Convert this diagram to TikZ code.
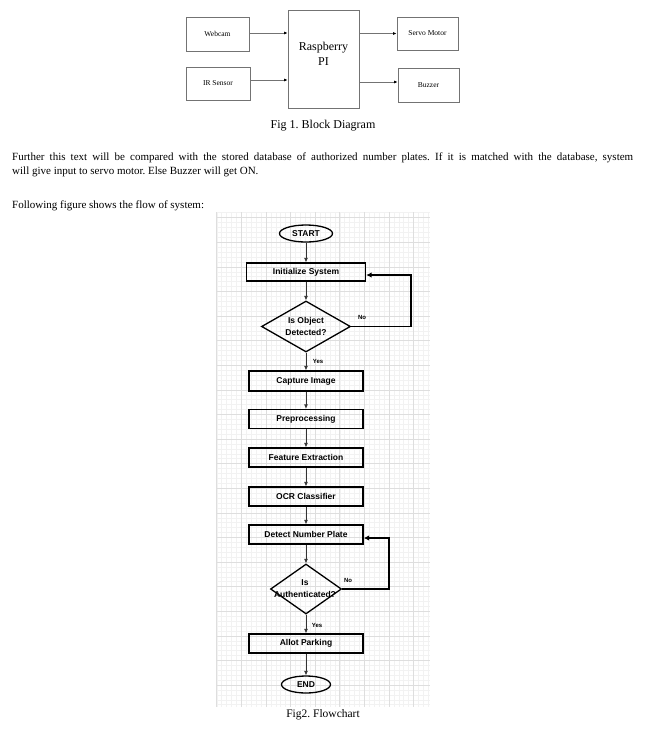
\documentclass[tikz,border=0pt]{standalone}
\usepackage{fontspec}
\setmainfont{Liberation Serif}
\setsansfont{Liberation Sans}
\usetikzlibrary{arrows.meta,shapes.geometric}
\frenchspacing
\begin{document}
\begin{tikzpicture}[x=1pt,y=-1pt,
  blk/.style={draw=black!55, line width=0.8pt, inner sep=0pt, font=\fontsize{7.5}{9}\selectfont},
  blkarrow/.style={draw=black!55, line width=0.8pt, -{Latex[color=black,length=3.5pt,width=3pt]}},
  flowbox/.style={draw=black, line width=1.3pt, minimum width=114pt, minimum height=19pt, inner sep=0pt, font=\sffamily\bfseries\fontsize{8.5}{10}\selectfont},
  term/.style={draw=black, ellipse, line width=1.3pt, inner sep=0pt, font=\sffamily\bfseries\fontsize{8.5}{10}\selectfont},
  decision/.style={draw=black, diamond, line width=1.3pt, inner sep=0pt},
  dtext/.style={align=center, inner sep=0pt, font=\sffamily\bfseries\fontsize{8.5}{12}\selectfont},
  flowarrow/.style={draw=black!80, line width=0.8pt, -{Latex[length=4.5pt,width=4pt]}},
  loopline/.style={draw=black, line width=1.4pt, -{Latex[length=5.5pt,width=5.5pt]}},
  small/.style={inner sep=0pt, font=\sffamily\bfseries\fontsize{6}{7}\selectfont},
  body/.style={anchor=base west, inner sep=0pt, font=\fontsize{11}{13}\selectfont},
  caption/.style={inner sep=0pt, font=\fontsize{12}{14}\selectfont},
  minorgrid/.style={draw=black!5, line width=0.4pt},
  majorgrid/.style={draw=black!13, line width=0.6pt}]
\useasboundingbox[fill=white] (0,0) rectangle (658,732);

% ---------- Block diagram ----------
\node[blk, minimum width=63pt, minimum height=34pt] (web) at (217.5,34) {Webcam};
\node[blk, minimum width=64pt, minimum height=33pt] (ir) at (218,83.5) {IR Sensor};
\node[blk, minimum width=71pt, minimum height=98pt] (pi) at (323.5,59) {};
\node[align=center, inner sep=0pt, font=\fontsize{12}{15}\selectfont] (pitext) at (323.5,54) {Raspberry\\PI};
\node[blk, minimum width=61pt, minimum height=33pt] (servo) at (427.5,33.5) {Servo Motor};
\node[blk, minimum width=61pt, minimum height=34pt] (buzz) at (428.5,85) {Buzzer};

\draw[blkarrow] ([yshift=1pt]web.east) -- ([yshift=1pt]web.east -| pi.west);
\draw[blkarrow] ([yshift=3.5pt]ir.east) -- ([yshift=3.5pt]ir.east -| pi.west);
\draw[blkarrow] (servo.west -| pi.east) -- (servo.west);
\draw[blkarrow] ([yshift=3pt]buzz.west -| pi.east) -- ([yshift=3pt]buzz.west);

\node[caption] (cap1) at (323,126) {Fig 1. Block Diagram};

% ---------- Body text ----------
\node[body] (t1) at (12,160) {\makebox[621pt][s]{Further this text will be compared with the stored database of authorized number plates. If it is matched with the database, system}};
\node[body] (t2) at (12,174) {will give input to servo motor. Else Buzzer will get ON.};
\node[body] (t3) at (12,208) {Following figure shows the flow of system:};

% ---------- Grid ----------
\begin{scope}
\clip (216,212) rectangle (430,707);
\foreach \i in {-5,...,50} {
  \draw[minorgrid] (216.7+4.92*\i,212) -- (216.7+4.92*\i,707);
}
\foreach \i in {-5,...,110} {
  \draw[minorgrid] (216,217.6+4.92*\i) -- (430,217.6+4.92*\i);
}
\foreach \i in {0,...,9} {
  \draw[majorgrid] (216.7+24.6*\i,212) -- (216.7+24.6*\i,707);
}
\foreach \i in {0,...,20} {
  \draw[majorgrid] (216,217.6+24.6*\i) -- (430,217.6+24.6*\i);
}
\end{scope}

% ---------- Flowchart ----------
\node[term, minimum width=53pt, minimum height=17pt] (start) at (306,233.5) {START};
\node[flowbox, minimum width=119pt, minimum height=18pt] (init) at (306,272) {Initialize System};
\node[decision, minimum width=89pt, minimum height=51pt] (dec1) at (306,326.5) {};
\node[dtext] (dec1t) at (306,326) {Is Object\\Detected?};
\node[flowbox, minimum height=20pt] (capt) at (306,381) {Capture Image};
\node[flowbox] (pre) at (306,419) {Preprocessing};
\node[flowbox] (feat) at (306,457.5) {Feature Extraction};
\node[flowbox] (ocr) at (306,496.5) {OCR Classifier};
\node[flowbox] (dnp) at (306,534.5) {Detect Number Plate};
\node[decision, minimum width=71pt, minimum height=50pt] (dec2) at (306,589) {};
\node[dtext] (dec2t) at (305,589) {Is\\Authenticated?};
\node[flowbox] (allot) at (306,643.5) {Allot Parking};
\node[term, minimum width=49pt, minimum height=17pt] (end) at (306,684.5) {END};

\draw[flowarrow] (start) -- (init);
\draw[flowarrow] (init) -- (dec1);
\draw[flowarrow] (dec1) -- (capt);
\draw[flowarrow] (capt) -- (pre);
\draw[flowarrow] (pre) -- (feat);
\draw[flowarrow] (feat) -- (ocr);
\draw[flowarrow] (ocr) -- (dnp);
\draw[flowarrow] (dnp) -- (dec2);
\draw[flowarrow] (dec2) -- (allot);
\draw[flowarrow] (allot) -- (end);

\coordinate (l1) at (411,326.5);
\coordinate (l2) at (389,589);
\draw[loopline] (dec1.east) -- (l1) |- ([yshift=-3pt]init.east);
\draw[loopline] (dec2.east) -- (l2) |- ([yshift=-3.5pt]dnp.east);

\node[small] (no1) at (362,317) {No};
\node[small] (yes1) at (318,361) {Yes};
\node[small] (no2) at (348,580) {No};
\node[small] (yes2) at (317,625) {Yes};

\node[caption, font=\fontsize{11.5}{14}\selectfont] (cap2) at (323,715) {Fig2. Flowchart};
\end{tikzpicture}
\end{document}
